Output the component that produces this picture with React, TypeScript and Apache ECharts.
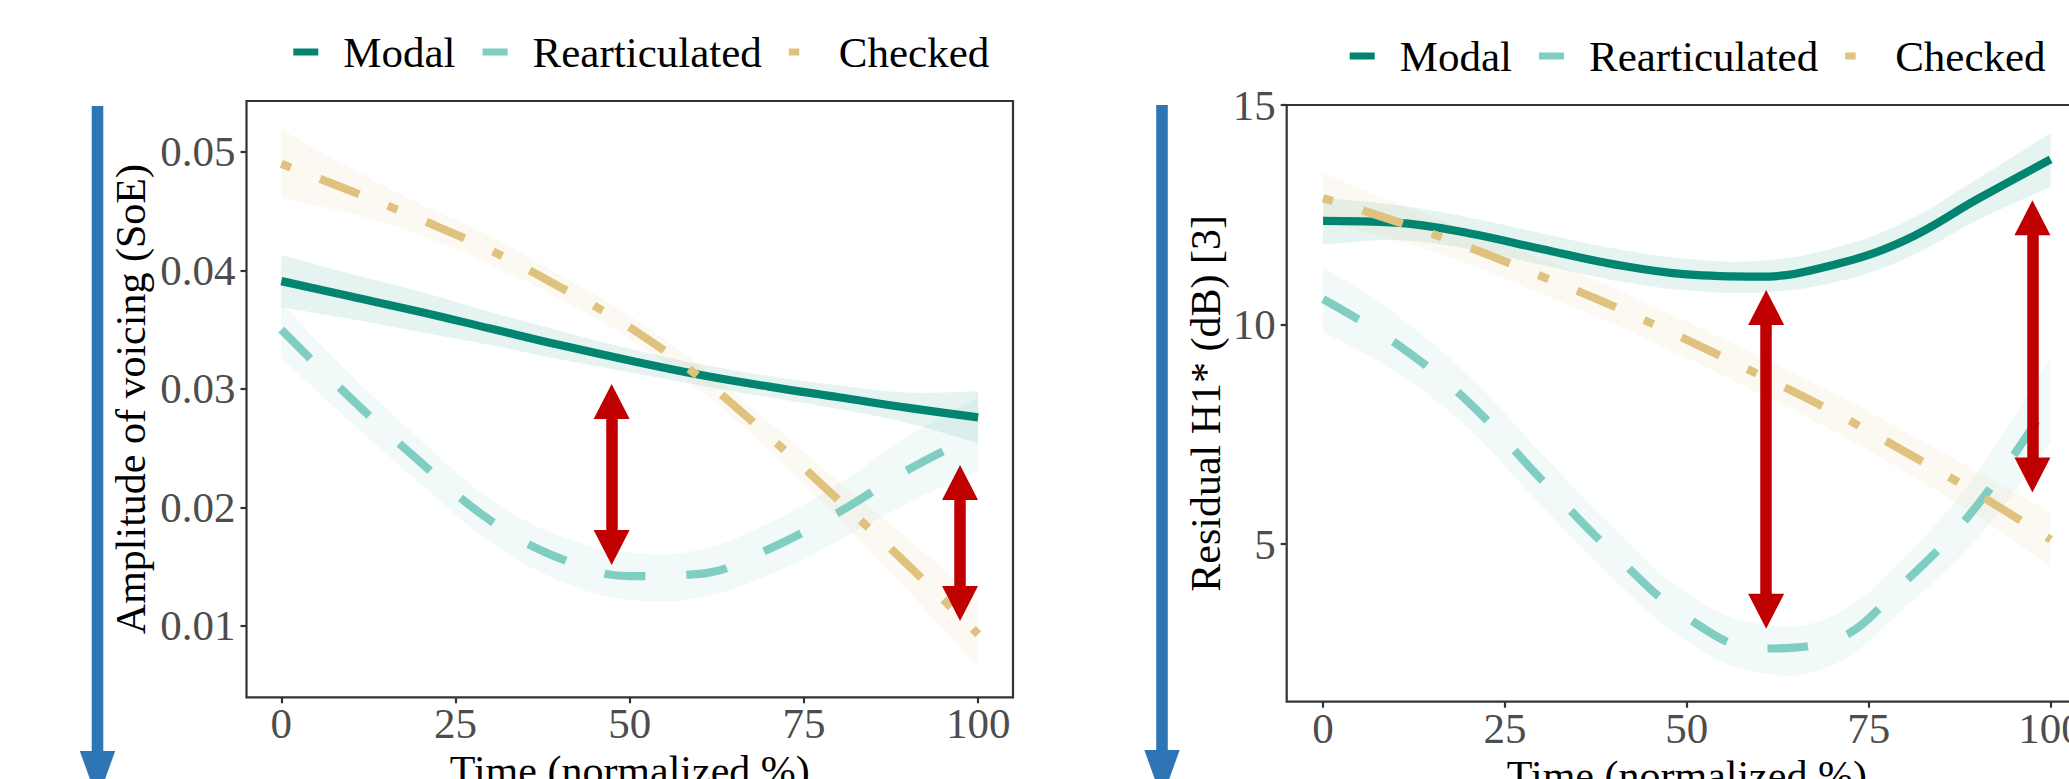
import React, { useEffect, useRef } from "react";
import * as echarts from "echarts";

// ---------- data ----------
const TIME = [0, 10, 20, 30, 40, 50, 60, 70, 80, 90, 100];
const GROUPS = ["Modal", "Rearticulated", "Checked"];
const X_TICKS = [0, 25, 50, 75, 100];

// Left panel: Amplitude of voicing (SoE)
const SOE_MODAL = [0.0391, 0.0378, 0.0365, 0.0351, 0.0337, 0.0324, 0.0312, 0.0302, 0.0293, 0.0284, 0.0276];
const SOE_MODAL_LO = [0.0369, 0.0359, 0.0348, 0.0337, 0.0325, 0.0314, 0.0303, 0.0293, 0.0283, 0.0271, 0.0254];
const SOE_MODAL_HI = [0.0413, 0.0397, 0.0382, 0.0365, 0.0349, 0.0334, 0.0321, 0.0311, 0.0303, 0.0297, 0.0298];
const SOE_REART = [0.0350, 0.0292, 0.0238, 0.0189, 0.0157, 0.0142, 0.0144, 0.0165, 0.0196, 0.0232, 0.0262];
const SOE_REART_LO = [0.0326, 0.0272, 0.0220, 0.0171, 0.0138, 0.0122, 0.0124, 0.0143, 0.0172, 0.0204, 0.0231];
const SOE_REART_HI = [0.0372, 0.0312, 0.0257, 0.0207, 0.0176, 0.0162, 0.0164, 0.0187, 0.0220, 0.0260, 0.0293];
const SOE_CHECK = [0.0490, 0.0467, 0.0443, 0.0417, 0.0386, 0.0352, 0.0310, 0.0260, 0.0206, 0.0151, 0.0093];
const SOE_CHECK_LO = [0.0461, 0.0448, 0.0430, 0.0405, 0.0376, 0.0342, 0.0300, 0.0248, 0.0190, 0.0129, 0.0065];
const SOE_CHECK_HI = [0.0519, 0.0486, 0.0456, 0.0429, 0.0396, 0.0362, 0.0320, 0.0272, 0.0222, 0.0173, 0.0122];
const SOE_TICKS = [0.01, 0.02, 0.03, 0.04, 0.05];
// red double arrows: [x, from, to]
const SOE_ARROWS = [
  [47.4, 0.02894, 0.01663],
  [97.4, 0.02211, 0.0119],
];

// Right panel: Residual H1* (dB)
const H1_MODAL = [12.36, 12.32, 12.08, 11.72, 11.37, 11.14, 11.09, 11.35, 11.92, 12.86, 13.76];
const H1_MODAL_LO = [11.82, 11.92, 11.72, 11.36, 11.01, 10.78, 10.73, 10.95, 11.5, 12.38, 13.14];
const H1_MODAL_HI = [12.88, 12.72, 12.44, 12.08, 11.73, 11.5, 11.45, 11.73, 12.34, 13.32, 14.36];
const H1_REART = [10.58, 9.57, 8.23, 6.47, 4.77, 3.33, 2.62, 2.8, 4.14, 5.9, 8.3];
const H1_REART_LO = [9.84, 8.91, 7.63, 5.87, 4.19, 2.78, 2.06, 2.24, 3.56, 5.15, 7.33];
const H1_REART_HI = [11.32, 10.23, 8.83, 7.07, 5.35, 3.88, 3.18, 3.36, 4.72, 6.65, 9.27];
const H1_CHECK = [12.88, 12.35, 11.76, 11.1, 10.41, 9.65, 8.85, 8.02, 7.1, 6.14, 5.1];
const H1_CHECK_LO = [12.32, 11.93, 11.37, 10.7, 10.0, 9.24, 8.43, 7.59, 6.64, 5.64, 4.48];
const H1_CHECK_HI = [13.44, 12.77, 12.15, 11.5, 10.82, 10.06, 9.27, 8.45, 7.56, 6.64, 5.72];
const H1_TICKS = [5, 10, 15];
const H1_ARROWS = [
  [60.9, 10.39, 3.47],
  [97.5, 12.43, 6.57],
];

// ---------- styles ----------
const FONT = "'Liberation Serif', 'Times New Roman', serif";
const COLORS = ["#018571", "#80CDC1", "#DFC27D"];
const FILLS = ["rgba(1,133,113,0.1)", "rgba(128,205,193,0.1)", "rgba(223,194,125,0.1)"];
const DASHES: any[] = ["solid", [41, 41], [10.5, 31, 42, 31]];
const LINE_W = 8.2;
const SMOOTH = 0.4;
const TICK_FONT = 43;

// same control-point rule as ECharts' smoothed polyline
function smoothSegments(pts: number[][], smooth: number): string {
  const n = pts.length;
  const cpNext: number[][] = [];
  const cpPrev: number[][] = [];
  for (let i = 0; i < n; i++) {
    const [x, y] = pts[i];
    const [px, py] = i > 0 ? pts[i - 1] : pts[i];
    const [nx, ny] = i < n - 1 ? pts[i + 1] : pts[i];
    const vx = nx - px;
    const vy = ny - py;
    const l0 = Math.hypot(x - px, y - py);
    const l1 = Math.hypot(nx - x, ny - y);
    const r = l0 + l1 > 0 ? l1 / (l0 + l1) : 0.5;
    cpPrev.push([x - vx * smooth * (1 - r), y - vy * smooth * (1 - r)]);
    cpNext.push([x + vx * smooth * r, y + vy * smooth * r]);
  }
  let d = "";
  for (let i = 0; i < n - 1; i++) {
    const a = cpNext[i];
    const b = cpPrev[i + 1];
    const p = pts[i + 1];
    d += `C${a[0]},${a[1]} ${b[0]},${b[1]} ${p[0]},${p[1]}`;
  }
  return d;
}

function ribbonSeries(idx: number, k: number, lo: number[], hi: number[]) {
  return {
    type: "custom",
    name: `${GROUPS[k]} 95% CI ${idx + 1}`,
    xAxisIndex: idx,
    yAxisIndex: idx,
    silent: true,
    z: 1,
    clip: true,
    encode: { x: 0, y: [1, 2] },
    data: TIME.map((t, i) => [t, lo[i], hi[i]]),
    renderItem: (params: any, api: any) => {
      if (params.dataIndex !== 0) return null;
      const up = TIME.map((t, i) => api.coord([t, hi[i]]));
      const dn = TIME.map((t, i) => api.coord([t, lo[i]])).reverse();
      const d =
        `M${up[0][0]},${up[0][1]}` +
        smoothSegments(up, SMOOTH) +
        `L${dn[0][0]},${dn[0][1]}` +
        smoothSegments(dn, SMOOTH) +
        "Z";
      return {
        type: "path",
        shape: { pathData: d },
        style: { fill: FILLS[k], stroke: null },
      };
    },
  };
}

function panelSeries(idx: number, fits: number[][], los: number[][], his: number[][], arrows: number[][]) {
  const out: any[] = [];
  GROUPS.forEach((g, k) => out.push(ribbonSeries(idx, k, los[k], his[k])));
  GROUPS.forEach((g, k) => {
    const s: any = {
      type: "line",
      name: g,
      xAxisIndex: idx,
      yAxisIndex: idx,
      smooth: SMOOTH,
      symbol: "none",
      z: 3,
      itemStyle: { color: COLORS[k] },
      lineStyle: { color: COLORS[k], width: LINE_W, type: DASHES[k], cap: "butt" },
      data: TIME.map((t, i) => [t, fits[k][i]]),
    };
    if (k === 2) {
      s.markLine = {
        silent: true,
        animation: false,
        symbol: ["triangle", "triangle"],
        symbolSize: [36, 35],
        label: { show: false },
        emphasis: { disabled: true },
        lineStyle: { color: "#C00000", width: 11.5, type: "solid", opacity: 1 },
        itemStyle: { color: "#C00000" },
        data: arrows.map((a) => [{ coord: [a[0], a[1]] }, { coord: [a[0], a[2]] }]),
      };
    }
    out.push(s);
  });
  return out;
}

function xAxisCfg(idx: number) {
  return {
    type: "value",
    gridIndex: idx,
    min: -5,
    max: 105,
    name: "Time (normalized %)",
    nameLocation: "middle",
    nameGap: 44.5,
    nameTextStyle: { fontSize: 42, color: "#000", fontFamily: FONT },
    axisLine: { show: false, onZero: false },
    splitLine: { show: false },
    axisTick: { show: true, length: 6, lineStyle: { color: "#333", width: 2.2 }, customValues: X_TICKS },
    axisLabel: { color: "#4D4D4D", fontSize: TICK_FONT, fontFamily: FONT, margin: 5, customValues: X_TICKS },
  };
}

function yAxisCfg(idx: number, name: string, min: number, max: number, ticks: number[], gap: number, fmt: (v: number) => string) {
  return {
    type: "value",
    gridIndex: idx,
    min,
    max,
    name,
    nameLocation: "middle",
    nameGap: gap,
    nameRotate: 90,
    nameTextStyle: { fontSize: 42, color: "#000", fontFamily: FONT },
    axisLine: { show: false, onZero: false },
    splitLine: { show: false },
    axisTick: { show: true, length: 6, lineStyle: { color: "#333", width: 2.2 }, customValues: ticks },
    axisLabel: { color: "#4D4D4D", fontSize: TICK_FONT, fontFamily: FONT, margin: 11, customValues: ticks, formatter: fmt },
  };
}

function legendCfg(left: number, top: number) {
  return {
    left,
    top,
    orient: "horizontal",
    padding: 0,
    itemWidth: 25,
    itemHeight: 7,
    itemGap: 27,
    selectedMode: false,
    itemStyle: { borderWidth: 0 },
    textStyle: { fontSize: 43, color: "#000", fontFamily: FONT, padding: [0, 0, 0, 20] },
    data: [
      { name: "Modal", icon: "rect" },
      { name: "Rearticulated", icon: "rect" },
      { name: "Checked", icon: "path://M0,0H10.5V7H0Z M24.99,0H25V0.01H24.99Z" },
    ],
  };
}

function blueArrow(cx: number, top: number, headTop: number, tip: number) {
  return [
    { type: "rect", shape: { x: cx - 5.8, y: top, width: 11.6, height: headTop - top + 1 }, style: { fill: "#2E75B6" }, silent: true },
    { type: "polygon", shape: { points: [[cx - 17.7, headTop], [cx + 17.7, headTop], [cx, tip]] }, style: { fill: "#2E75B6" }, silent: true },
  ];
}

export default function App() {
  const ref = useRef<HTMLDivElement>(null);
  useEffect(() => {
    if (!ref.current) return;
    const chart = echarts.init(ref.current, null, { renderer: "svg" });
    const option: any = {
      animation: false,
      backgroundColor: "#ffffff",
      textStyle: { fontFamily: FONT },
      grid: [
        { left: 246.5, top: 101, width: 766.5, height: 596.3, show: true, borderColor: "#333333", borderWidth: 2.2, backgroundColor: "transparent", containLabel: false, outerBoundsMode: "none" },
        { left: 1286.7, top: 105, width: 800.3, height: 596.7, show: true, borderColor: "#333333", borderWidth: 2.2, backgroundColor: "transparent", containLabel: false, outerBoundsMode: "none" },
      ],
      legend: [legendCfg(293.3, 30.5), legendCfg(1349.7, 34.5)],
      xAxis: [xAxisCfg(0), xAxisCfg(1)],
      yAxis: [
        yAxisCfg(0, "Amplitude of voicing (SoE)", 0.00398, 0.0543, SOE_TICKS, 95, (v: number) => v.toFixed(2)),
        yAxisCfg(1, "Residual H1* (dB) [3]", 1.408, 15.0, H1_TICKS, 60, (v: number) => String(v)),
      ],
      graphic: [...blueArrow(97.5, 106, 751, 800), ...blueArrow(1162, 105, 750, 799)],
      series: [
        ...panelSeries(0, [SOE_MODAL, SOE_REART, SOE_CHECK], [SOE_MODAL_LO, SOE_REART_LO, SOE_CHECK_LO], [SOE_MODAL_HI, SOE_REART_HI, SOE_CHECK_HI], SOE_ARROWS),
        ...panelSeries(1, [H1_MODAL, H1_REART, H1_CHECK], [H1_MODAL_LO, H1_REART_LO, H1_CHECK_LO], [H1_MODAL_HI, H1_REART_HI, H1_CHECK_HI], H1_ARROWS),
      ],
    };
    chart.setOption(option);
    return () => chart.dispose();
  }, []);
  return (
    <div
      ref={ref}
      style={{ position: "fixed", left: 0, top: 0, width: 2069, height: 779, background: "#fff" }}
    />
  );
}
